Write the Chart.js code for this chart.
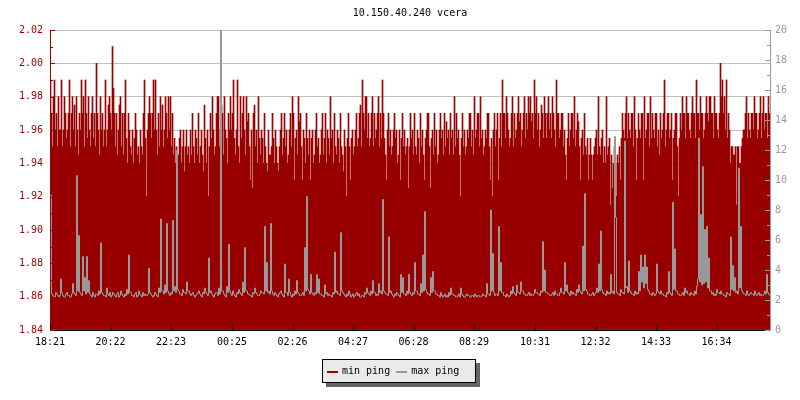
<!DOCTYPE html>
<html lang="en">
<head>
<meta charset="UTF-8">
<title>10.150.40.240 vcera</title>
<style>
    body { margin: 0; background: #fff; }
    #chart-container { width: 800px; height: 400px; }
</style>
<script src="https://cdn.jsdelivr.net/npm/chart.js"></script>
</head>
<body>
<div id="chart-container">
    <canvas id="ping-chart" width="800" height="400"></canvas>
</div>
<script>
// time axis: minutes since 18:21, one sample every 2 minutes
const tickLabels = ['18:21', '20:22', '22:23', '00:25', '02:26', '04:27', '06:28', '08:29', '10:31', '12:32', '14:33', '16:34'];
const tickMinutes = [0, 121, 242, 364, 485, 606, 727, 848, 970, 1091, 1212, 1333];
const leftTicks = [1.84, 1.86, 1.88, 1.90, 1.92, 1.94, 1.96, 1.98, 2.00, 2.02];
const rightTicks = [0, 2, 4, 6, 8, 10, 12, 14, 16, 18, 20];
const stepMinutes = 2;

const minPing = [
    1.99,1.97,1.95,1.98,1.99,1.96,1.97,1.95,1.98,1.96,1.96,1.99,1.95,1.96,1.98,1.97,1.955,1.96,1.97,1.99,
    1.95,1.97,1.98,1.96,1.975,1.95,1.98,1.96,1.945,1.97,1.96,1.99,1.97,1.98,1.95,1.99,1.97,1.955,1.98,1.96,
    1.95,1.97,1.98,1.955,1.97,1.95,2.00,1.97,1.96,1.945,1.98,1.96,1.97,1.95,1.96,1.99,1.95,1.96,1.975,1.98,
    1.97,1.96,2.01,1.985,1.97,1.95,1.97,1.945,1.96,1.975,1.98,1.95,1.97,1.945,1.97,1.99,1.955,1.94,1.97,1.96,
    1.95,1.945,1.96,1.94,1.955,1.97,1.96,1.945,1.95,1.94,1.96,1.95,1.945,1.97,1.99,1.955,1.92,1.96,1.97,1.98,
    1.97,1.955,1.97,1.99,1.96,1.99,1.96,1.945,1.97,1.95,1.98,1.96,1.975,1.95,1.96,1.98,1.97,1.955,1.98,1.96,
    1.98,1.95,1.97,1.945,1.955,1.94,1.95,1.94,1.945,1.955,1.96,1.94,1.95,1.96,1.935,1.95,1.96,1.945,1.95,1.94,
    1.96,1.945,1.97,1.95,1.94,1.96,1.955,1.945,1.97,1.94,1.95,1.96,1.945,1.935,1.975,1.955,1.94,1.96,1.92,1.95,
    1.97,1.955,1.98,1.96,1.945,1.95,1.97,1.98,1.98,1.95,1.96,1.975,1.97,1.945,1.98,1.96,1.955,1.94,1.97,1.96,
    1.98,1.96,1.97,1.99,1.955,1.945,1.96,1.99,1.95,1.94,1.98,1.955,1.97,1.98,1.96,1.945,1.98,1.965,1.97,1.95,
    1.93,1.96,1.925,1.97,1.975,1.95,1.96,1.94,1.98,1.955,1.945,1.96,1.955,1.94,1.97,1.95,1.94,1.935,1.96,1.945,
    1.945,1.95,1.97,1.955,1.94,1.96,1.95,1.94,1.935,1.95,1.96,1.97,1.945,1.955,1.97,1.95,1.96,1.94,1.945,1.96,
    1.97,1.95,1.98,1.97,1.93,1.955,1.96,1.945,1.98,1.965,1.97,1.95,1.93,1.96,1.955,1.94,1.97,1.955,1.945,1.96,
    1.93,1.955,1.96,1.94,1.945,1.96,1.97,1.95,1.955,1.94,1.945,1.96,1.97,1.945,1.955,1.97,1.94,1.96,1.955,1.945,
    1.98,1.955,1.96,1.94,1.97,1.95,1.945,1.96,1.955,1.94,1.97,1.95,1.945,1.935,1.96,1.95,1.92,1.955,1.97,1.95,
    1.93,1.955,1.96,1.945,1.95,1.96,1.97,1.95,1.955,1.97,1.975,1.95,1.99,1.97,1.96,1.98,1.98,1.955,1.97,1.95,
    1.955,1.97,1.98,1.95,1.97,1.955,1.96,1.97,1.98,1.95,1.97,1.955,1.99,1.97,1.955,1.945,1.93,1.96,1.97,1.95,
    1.96,1.945,1.95,1.96,1.97,1.955,1.96,1.94,1.945,1.96,1.93,1.955,1.97,1.95,1.96,1.945,1.95,1.955,1.925,1.95,
    1.97,1.955,1.96,1.945,1.97,1.95,1.945,1.96,1.955,1.94,1.97,1.95,1.96,1.945,1.93,1.955,1.96,1.97,1.97,1.95,
    1.925,1.955,1.96,1.945,1.97,1.95,1.96,1.94,1.945,1.96,1.97,1.955,1.96,1.945,1.97,1.95,1.965,1.955,1.96,1.945,
    1.97,1.955,1.96,1.945,1.98,1.95,1.97,1.955,1.96,1.945,1.92,1.955,1.97,1.95,1.96,1.945,1.95,1.96,1.955,1.97,
    1.97,1.95,1.96,1.945,1.98,1.955,1.96,1.97,1.97,1.95,1.98,1.955,1.96,1.945,1.95,1.96,1.955,1.97,1.97,1.95,
    1.93,1.955,1.92,1.96,1.97,1.95,1.96,1.97,1.93,1.955,1.97,1.95,1.99,1.97,1.97,1.955,1.98,1.97,1.96,1.95,
    1.955,1.97,1.98,1.95,1.97,1.955,1.96,1.97,1.98,1.965,1.97,1.95,1.96,1.97,1.98,1.955,1.97,1.96,1.98,1.97,
    1.98,1.965,1.97,1.955,1.99,1.97,1.98,1.96,1.97,1.95,1.96,1.975,1.97,1.955,1.98,1.97,1.955,1.97,1.98,1.96,
    1.97,1.955,1.98,1.97,1.96,1.95,1.99,1.97,1.97,1.955,1.96,1.97,1.97,1.95,1.96,1.945,1.93,1.955,1.97,1.95,
    1.96,1.97,1.97,1.955,1.98,1.95,1.96,1.97,1.965,1.95,1.93,1.955,1.96,1.945,1.97,1.95,1.945,1.955,1.93,1.945,
    1.955,1.945,1.93,1.945,1.95,1.955,1.96,1.945,1.98,1.95,1.945,1.955,1.96,1.94,1.95,1.94,1.98,1.945,1.95,1.955,
    1.915,1.945,1.925,1.94,1.95,1.94,1.92,1.945,1.94,1.95,1.93,1.955,1.97,1.96,1.955,1.97,1.98,1.955,1.97,1.96,
    1.955,1.97,1.97,1.95,1.98,1.96,1.93,1.955,1.97,1.96,1.955,1.97,1.97,1.93,1.98,1.955,1.96,1.97,1.97,1.95,
    1.98,1.955,1.97,1.96,1.955,1.97,1.97,1.95,1.96,1.945,1.97,1.955,1.96,1.97,1.99,1.95,1.96,1.97,1.97,1.955,
    1.96,1.97,1.93,1.955,1.96,1.97,1.97,1.95,1.92,1.955,1.97,1.96,1.98,1.97,1.97,1.955,1.98,1.97,1.97,1.96,
    1.955,1.97,1.98,1.97,1.97,1.955,1.99,1.97,1.97,1.96,1.98,1.97,1.97,1.955,1.96,1.97,1.98,1.97,1.965,1.98,
    1.98,1.97,1.97,1.955,1.98,1.97,1.97,1.96,1.955,1.97,2.00,1.98,1.99,1.97,1.98,1.96,1.99,1.955,1.97,1.96,
    1.94,1.95,1.95,1.945,1.945,1.95,1.915,1.95,1.95,1.94,1.94,1.95,1.955,1.96,1.96,1.97,1.98,1.955,1.97,1.96,
    1.955,1.97,1.97,1.96,1.98,1.97,1.97,1.955,1.96,1.97,1.98,1.955,1.97,1.98,1.96,1.97,1.97,1.955,1.98,1.97
];

const maxPing = [
    9.0,2.4,2.3,2.2,2.2,2.5,2.4,2.3,2.2,2.3,3.4,2.5,2.3,2.2,2.2,2.4,2.5,2.3,2.3,2.2,
    2.2,2.4,3.1,2.5,2.4,2.3,10.3,2.6,6.3,2.5,2.4,2.3,4.9,2.6,3.5,2.4,4.9,2.5,3.3,2.4,
    2.3,2.2,2.5,2.3,2.2,2.4,2.4,2.3,2.6,2.4,5.8,2.5,2.4,2.3,2.3,2.2,2.8,2.4,2.3,2.5,
    2.2,2.3,2.5,2.4,2.3,2.2,2.4,2.5,2.2,2.3,2.6,2.4,2.3,2.2,2.4,2.3,2.7,2.4,5.0,2.5,
    2.5,2.3,2.3,2.2,2.4,2.5,2.2,2.3,2.6,2.4,2.3,2.2,2.5,2.3,2.4,2.3,2.3,2.4,4.1,2.5,
    2.4,2.3,2.2,2.3,2.5,2.4,2.3,2.2,2.8,2.5,7.4,2.6,2.6,2.4,3.0,2.5,7.1,2.6,2.4,2.3,
    2.5,2.4,7.3,2.6,2.9,2.5,12.0,2.7,2.6,2.4,2.4,2.3,2.7,2.5,2.5,2.4,3.2,2.6,2.6,2.4,
    2.3,2.4,2.5,2.3,2.2,2.3,2.4,2.5,2.6,2.4,2.3,2.2,2.5,2.4,2.8,2.5,2.4,2.3,4.8,2.5,
    2.6,2.4,2.3,2.2,2.4,2.5,2.5,2.3,2.8,2.4,20.5,2.6,2.6,2.4,2.3,2.2,2.9,2.5,5.7,2.6,
    2.4,2.3,2.6,2.4,2.3,2.2,2.5,2.4,2.7,2.5,2.4,2.3,3.2,2.5,5.5,2.6,2.6,2.4,2.4,2.3,
    2.3,2.2,2.5,2.4,2.8,2.5,2.4,2.3,2.3,2.4,2.6,2.5,2.5,2.4,6.9,2.6,4.5,2.5,2.6,2.4,
    7.1,2.6,2.4,2.3,2.5,2.4,2.3,2.2,2.4,2.5,2.6,2.4,2.3,2.2,4.4,2.5,2.5,2.3,3.4,2.5,
    2.3,2.2,2.4,2.3,2.6,2.4,3.3,2.5,2.4,2.3,2.3,2.4,2.5,2.3,5.5,2.6,8.9,2.7,2.6,2.4,
    3.7,2.5,2.4,2.3,2.5,2.4,3.7,2.5,3.4,2.4,2.4,2.3,2.3,2.2,3.0,2.4,2.5,2.3,2.4,2.3,
    2.3,2.2,2.5,2.4,5.2,2.5,2.6,2.4,2.4,2.3,6.5,2.6,2.5,2.4,2.3,2.2,2.4,2.3,2.6,2.4,
    2.2,2.3,2.4,2.2,2.3,2.4,2.5,2.3,2.4,2.2,2.2,2.3,2.3,2.2,2.5,2.4,2.8,2.5,2.4,2.3,
    2.6,2.4,3.3,2.5,2.5,2.3,2.4,2.3,3.1,2.5,2.6,2.4,8.7,2.6,2.5,2.4,2.4,2.3,6.2,2.5,
    2.6,2.4,2.3,2.2,2.4,2.3,2.5,2.4,2.3,2.2,3.7,2.5,3.5,2.4,2.4,2.3,2.6,2.4,3.7,2.5,
    2.4,2.3,2.5,2.4,4.5,2.6,2.6,2.4,2.4,2.3,3.1,2.5,5.0,2.6,7.9,2.7,2.5,2.4,2.4,2.3,
    3.5,2.5,3.9,2.6,2.6,2.4,2.4,2.3,2.3,2.2,2.5,2.3,2.2,2.3,2.4,2.2,2.3,2.2,2.5,2.3,
    2.8,2.4,2.4,2.3,2.3,2.2,2.2,2.3,2.4,2.2,2.8,2.4,2.3,2.2,2.2,2.3,2.4,2.3,2.3,2.2,
    2.2,2.3,2.3,2.2,2.4,2.3,2.2,2.3,2.3,2.2,2.2,2.3,2.4,2.3,2.3,2.2,3.1,2.4,2.4,2.3,
    8.0,2.6,5.1,2.5,2.3,2.4,2.4,2.3,6.9,2.6,4.5,2.5,2.5,2.3,2.3,2.2,2.4,2.3,2.2,2.3,
    2.6,2.4,2.9,2.5,2.4,2.3,3.0,2.5,2.5,2.4,3.2,2.6,2.6,2.4,2.4,2.3,2.3,2.4,2.5,2.3,
    2.4,2.3,2.3,2.4,2.7,2.5,2.5,2.4,2.4,2.3,2.6,2.5,5.9,2.6,4.0,2.5,2.5,2.4,2.4,2.3,
    2.3,2.4,2.5,2.3,2.6,2.4,2.4,2.3,2.3,2.5,2.8,2.5,2.5,2.4,4.5,2.6,3.0,2.5,2.4,2.3,
    2.6,2.4,2.5,2.4,2.4,2.3,2.7,2.5,3.0,2.6,2.5,2.4,5.6,2.6,9.1,2.7,2.6,2.4,2.4,2.3,
    2.3,2.4,2.5,2.3,2.4,2.5,2.8,2.5,4.4,2.6,6.6,2.7,2.5,2.4,2.4,2.3,2.6,2.4,2.5,2.4,
    3.7,2.5,2.6,2.4,12.9,7.5,2.5,2.4,2.4,2.3,2.7,2.5,2.5,2.4,12.6,2.8,2.9,2.5,4.6,2.6,
    2.5,2.4,2.4,2.3,2.6,2.4,2.5,2.4,3.9,2.6,5.0,3.2,4.2,2.8,5.0,3.1,4.2,2.7,2.6,2.4,
    2.4,2.3,2.5,2.4,2.3,2.4,4.4,2.6,2.5,2.4,2.6,2.4,2.4,2.3,2.3,2.2,2.5,2.4,3.9,2.5,
    2.4,2.3,8.5,2.7,5.4,2.6,2.6,2.4,2.4,2.3,2.3,2.4,2.5,2.3,2.8,2.5,2.6,2.4,2.4,2.3,
    2.5,2.4,2.4,2.3,2.6,2.4,2.9,3.4,12.8,3.2,7.7,3.0,10.9,3.1,6.7,3.2,6.9,2.8,4.8,2.6,
    2.6,2.4,2.5,2.3,2.4,2.3,2.7,2.5,2.5,2.4,2.6,2.4,2.4,2.3,2.3,2.2,2.5,2.4,2.4,2.3,
    6.2,2.7,4.3,2.6,3.5,2.5,2.6,2.4,10.8,2.8,6.9,2.6,2.5,2.4,2.4,2.3,2.6,2.4,2.3,2.4,
    2.5,2.4,2.4,2.3,2.6,2.4,2.3,2.4,2.5,2.3,2.4,2.3,2.3,2.4,2.6,2.4,3.7,2.5,2.4,2.3
];

const RED = '#990000';
const GRAY = '#999999';
const FONT = '"DejaVu Sans Mono", "Liberation Mono", monospace';

// inward tick marks and the boxed legend
const decorations = {
    id: 'decorations',
    afterDraw(chart) {
        const ctx = chart.ctx;
        const area = chart.chartArea;
        const sy = chart.scales.y, sy1 = chart.scales.y1, sx = chart.scales.x;
        const px = v => Math.round(v) + 0.5;
        ctx.save();
        ctx.lineWidth = 1;

        ctx.strokeStyle = RED;
        ctx.beginPath();
        leftTicks.forEach((t, i) => {
            const y = px(sy.getPixelForValue(t));
            ctx.moveTo(area.left, y); ctx.lineTo(area.left + 5, y);
            if (i < leftTicks.length - 1) {
                const m = px(sy.getPixelForValue((t + leftTicks[i + 1]) / 2));
                ctx.moveTo(area.left, m); ctx.lineTo(area.left + 3, m);
            }
        });
        ctx.stroke();

        ctx.strokeStyle = GRAY;
        ctx.beginPath();
        rightTicks.forEach((t, i) => {
            const y = px(sy1.getPixelForValue(t));
            ctx.moveTo(area.right, y); ctx.lineTo(area.right - 5, y);
            if (i < rightTicks.length - 1) {
                const m = px(sy1.getPixelForValue((t + rightTicks[i + 1]) / 2));
                ctx.moveTo(area.right, m); ctx.lineTo(area.right - 3, m);
            }
        });
        ctx.stroke();

        ctx.strokeStyle = '#000';
        ctx.beginPath();
        tickMinutes.forEach(t => {
            const x = px(sx.getPixelForValue(t));
            ctx.moveTo(x, area.bottom); ctx.lineTo(x, area.bottom - 5);
        });
        ctx.stroke();

        // legend box
        const bx = 322, by = 359, bw = 154, bh = 24;
        ctx.fillStyle = '#666';
        ctx.fillRect(bx + 4, by + 4, bw, bh);
        ctx.fillStyle = '#eaeaea';
        ctx.fillRect(bx, by, bw, bh);
        ctx.strokeStyle = '#000';
        ctx.strokeRect(bx + 0.5, by + 0.5, bw - 1, bh - 1);
        ctx.font = '10px ' + FONT;
        ctx.textBaseline = 'middle';
        let x = bx + 5;
        const cy = by + bh / 2;
        chart.data.datasets.forEach(ds => {
            ctx.fillStyle = ds.legendColor;
            ctx.fillRect(x, cy, 11, 2);
            x += 15;
            ctx.fillStyle = '#000';
            ctx.fillText(ds.label, x, cy);
            x += ctx.measureText(ds.label).width + 6;
        });
        ctx.restore();
    }
};

new Chart(document.getElementById('ping-chart'), {
    type: 'bar',
    data: {
        datasets: [{
            type: 'bar',
            label: 'min ping',
            legendColor: RED,
            data: minPing.map((v, i) => ({ x: i * stepMinutes + 1, y: v })),
            yAxisID: 'y',
            backgroundColor: RED,
            borderWidth: 0,
            base: 1.84,
            barPercentage: 1,
            categoryPercentage: 1,
            order: 1
        }, {
            type: 'line',
            label: 'max ping',
            legendColor: GRAY,
            data: maxPing.map((v, i) => ({ x: i * stepMinutes + 1, y: v })),
            yAxisID: 'y1',
            borderColor: GRAY,
            borderWidth: 1,
            pointRadius: 0,
            stepped: 'before',
            fill: false,
            order: 0
        }]
    },
    options: {
        responsive: false,
        animation: false,
        layout: { padding: 0 },
        plugins: {
            legend: { display: false },
            tooltip: { enabled: false },
            title: {
                display: true,
                text: '10.150.40.240 vcera',
                fullSize: false,
                color: '#000',
                font: { family: FONT, size: 10, weight: 'normal' },
                padding: { top: 7, bottom: 11 }
            }
        },
        scales: {
            x: {
                type: 'linear',
                min: 0,
                max: 1440,
                offset: false,
                afterBuildTicks: s => { s.ticks = tickMinutes.map(v => ({ value: v })); },
                afterFit: s => { s.height = 70; },
                grid: { display: false, drawTicks: false },
                border: { color: '#000', width: 1 },
                ticks: {
                    color: '#000',
                    font: { family: FONT, size: 10 },
                    padding: 6,
                    maxRotation: 0,
                    autoSkip: false,
                    callback: (v, i) => tickLabels[i]
                }
            },
            y: {
                position: 'left',
                min: 1.84,
                max: 2.02,
                afterBuildTicks: s => { s.ticks = leftTicks.map(v => ({ value: v })); },
                afterFit: s => { s.width = 50; },
                grid: { color: '#c0c0c0', lineWidth: 1, drawTicks: false },
                border: { color: RED, width: 1 },
                ticks: {
                    color: RED,
                    font: { family: FONT, size: 10 },
                    padding: 7,
                    callback: v => v.toFixed(2)
                }
            },
            y1: {
                position: 'right',
                min: 0,
                max: 20,
                afterBuildTicks: s => { s.ticks = rightTicks.map(v => ({ value: v })); },
                afterFit: s => { s.width = 30; },
                grid: { display: false, drawTicks: false },
                border: { color: GRAY, width: 1 },
                ticks: {
                    color: GRAY,
                    font: { family: FONT, size: 10 },
                    padding: 5,
                    callback: v => String(v)
                }
            }
        }
    },
    plugins: [decorations]
});
</script>
</body>
</html>
